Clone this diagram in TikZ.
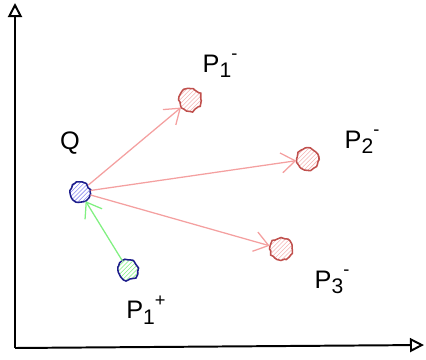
\documentclass[tikz,border=0pt]{standalone}
\usepackage{fontspec}
\setmainfont{Liberation Sans}
\usepackage{xcolor}
\usetikzlibrary{arrows.meta,positioning,patterns,decorations.pathmorphing}

\definecolor{dotblue}{HTML}{1E1E8C}
\definecolor{hatchblue}{HTML}{8C8CF0}
\definecolor{dotred}{HTML}{C0504D}
\definecolor{hatchred}{HTML}{F4B4B4}
\definecolor{arrowpink}{HTML}{F4A0A0}
\definecolor{arrowgreen}{HTML}{80F080}

% point label: P with index and sign
\newcommand{\plabel}[2]{P\raisebox{-4pt}{\fontsize{15}{15}\selectfont #1}\raisebox{9pt}{\fontsize{13}{13}\selectfont #2}}

\begin{document}
\begin{tikzpicture}[x=0.025cm, y=-0.025cm,
  qdot/.style={circle, draw=dotblue, line width=1.1pt, minimum size=0.5cm, inner sep=0pt,
    pattern=north east lines, pattern color=hatchblue,
    decorate, decoration={random steps, segment length=2pt, amplitude=0.8pt}},
  posdot/.style={qdot, pattern color=arrowgreen},
  negdot/.style={circle, draw=dotred, line width=1.1pt, minimum size=0.55cm, inner sep=0pt,
    pattern=north east lines, pattern color=hatchred,
    decorate, decoration={random steps, segment length=2pt, amplitude=0.8pt}},
  lbl/.style={font=\fontsize{18}{20}\selectfont, inner sep=0pt},
  negarrow/.style={draw=arrowpink, line width=0.9pt, -{Straight Barb[length=3.5mm, width=5mm]}},
  posarrow/.style={draw=arrowgreen, line width=0.9pt, -{Straight Barb[length=3.5mm, width=5mm]}},
  axis/.style={line width=1.4pt, -{Triangle[open, length=3.5mm, width=3.5mm]}}]
  \useasboundingbox (0,0) rectangle (426,360);

  % axes
  \coordinate (origin) at (15,348);
  \coordinate (ytop) at (15,3);
  \coordinate (xend) at (424,345);
  \draw[axis] (origin) -- (ytop);
  \draw[axis] (origin) -- (xend);

  % points
  \node (q) [qdot] at (80,192) {};
  \node (pplus) [posdot] at (128,270) {};
  \node (pone) [negdot] at (190,100) {};
  \node (ptwo) [negdot] at (308,159) {};
  \node (pthree) [negdot] at (281,249) {};

  % labels
  \node (qlbl) [lbl] at (70,143) {Q};
  \node (plusl) [lbl] at (146,310) {\plabel{1}{+}};
  \node (onel) [lbl] at (220,66) {\plabel{1}{-}};
  \node (twol) [lbl] at (362,142) {\plabel{2}{-}};
  \node (threel) [lbl] at (332,282) {\plabel{3}{-}};

  \draw[negarrow] (q) -- (pone);
  \draw[negarrow] (q) -- (ptwo);
  \draw[negarrow] (q) -- (pthree);
  \draw[posarrow] (pplus) -- (q);
\end{tikzpicture}
\end{document}
